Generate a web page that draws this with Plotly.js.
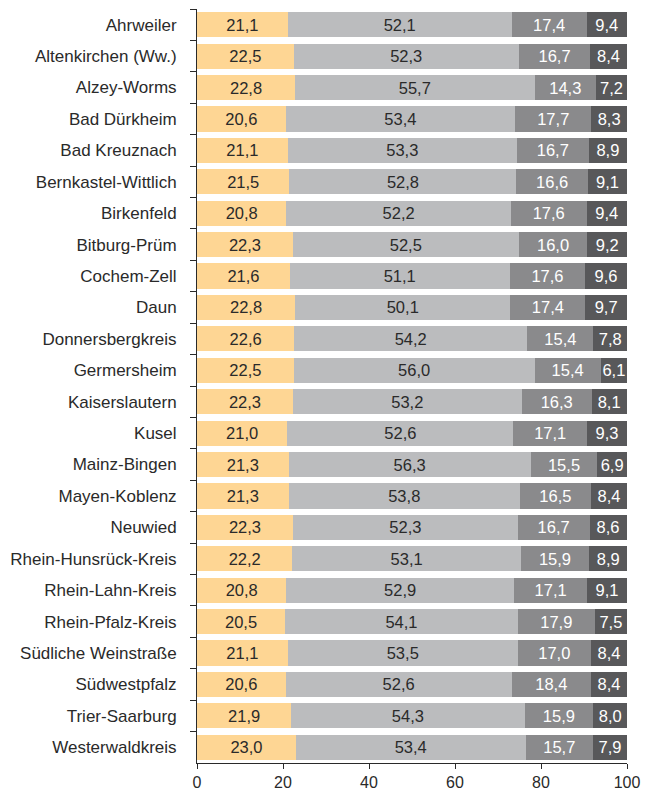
<!DOCTYPE html>
<html>
<head>
<meta charset="utf-8">
<script src="https://cdn.plot.ly/plotly-3.0.1.min.js"></script>
<style>html,body{margin:0;padding:0;background:#fff;}#chart{width:651px;height:793px;}</style>
</head>
<body>
<div id="chart"></div>
<script>
const categories = ["Ahrweiler","Altenkirchen (Ww.)","Alzey-Worms","Bad Dürkheim","Bad Kreuznach","Bernkastel-Wittlich","Birkenfeld","Bitburg-Prüm","Cochem-Zell","Daun","Donnersbergkreis","Germersheim","Kaiserslautern","Kusel","Mainz-Bingen","Mayen-Koblenz","Neuwied","Rhein-Hunsrück-Kreis","Rhein-Lahn-Kreis","Rhein-Pfalz-Kreis","Südliche Weinstraße","Südwestpfalz","Trier-Saarburg","Westerwaldkreis"];
const series1 = [21.1,22.5,22.8,20.6,21.1,21.5,20.8,22.3,21.6,22.8,22.6,22.5,22.3,21.0,21.3,21.3,22.3,22.2,20.8,20.5,21.1,20.6,21.9,23.0];
const series2 = [52.1,52.3,55.7,53.4,53.3,52.8,52.2,52.5,51.1,50.1,54.2,56.0,53.2,52.6,56.3,53.8,52.3,53.1,52.9,54.1,53.5,52.6,54.3,53.4];
const series3 = [17.4,16.7,14.3,17.7,16.7,16.6,17.6,16.0,17.6,17.4,15.4,15.4,16.3,17.1,15.5,16.5,16.7,15.9,17.1,17.9,17.0,18.4,15.9,15.7];
const series4 = [9.4,8.4,7.2,8.3,8.9,9.1,9.4,9.2,9.6,9.7,7.8,6.1,8.1,9.3,6.9,8.4,8.6,8.9,9.1,7.5,8.4,8.4,8.0,7.9];
const xTicks = [0,20,40,60,80,100];

const colors = ["#FED694","#BBBCBE","#8A8A8C","#58585A"];
const textColors = ["#2a2a2a","#2a2a2a","#ffffff","#ffffff"];
const fmt = v => v.toFixed(1).replace('.', ',');

const traces = [series1, series2, series3, series4].map((s, i) => ({
  type: 'bar',
  orientation: 'h',
  y: categories,
  x: s,
  text: s.map(fmt),
  textposition: 'inside',
  insidetextanchor: 'middle',
  constraintext: 'none',
  textfont: {family: 'Liberation Sans, Arial, sans-serif', size: 16.5, color: textColors[i]},
  marker: {color: colors[i], line: {width: 0}},
  hoverinfo: 'skip'
}));

Plotly.newPlot('chart', traces, {
  barmode: 'stack',
  bargap: 0.2,
  width: 651,
  height: 793,
  margin: {l: 197, r: 24, t: 9, b: 30},
  showlegend: false,
  paper_bgcolor: '#ffffff',
  plot_bgcolor: '#ffffff',
  font: {family: 'Liberation Sans, Arial, sans-serif', size: 17, color: '#2a2a2a'},
  xaxis: {
    range: [0, 100],
    tickvals: xTicks,
    ticktext: xTicks.map(String),
    ticks: 'outside',
    ticklen: 5,
    tickcolor: '#2a2a2a',
    showline: true,
    linecolor: '#2a2a2a',
    linewidth: 1,
    showgrid: false,
    zeroline: false,
    ticklabelstandoff: 0,
    tickfont: {size: 16, color: '#2a2a2a'}
  },
  yaxis: {
    autorange: 'reversed',
    type: 'category',
    ticks: 'outside',
    tickson: 'boundaries',
    ticklen: 6,
    tickcolor: '#2a2a2a',
    showline: true,
    linecolor: '#2a2a2a',
    linewidth: 1,
    showgrid: false,
    zeroline: false,
    ticklabelstandoff: 16,
    tickfont: {size: 17, color: '#2a2a2a'}
  }
}, {staticPlot: true});
</script>
</body>
</html>
